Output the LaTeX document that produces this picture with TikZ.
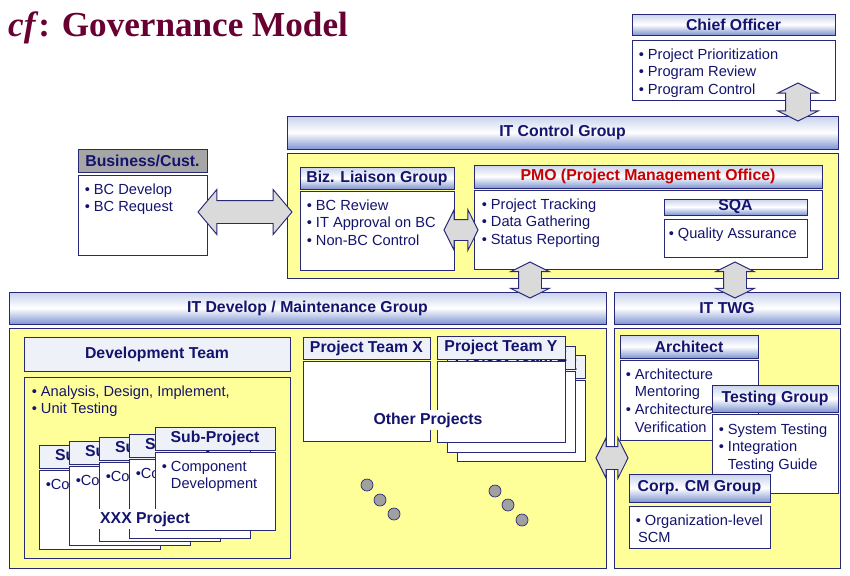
\documentclass[tikz,border=0pt]{standalone}
\usepackage{fontspec}
\setmainfont{Liberation Sans}
\newfontfamily\titlefont{Liberation Serif}
\usetikzlibrary{shapes.arrows,fit,positioning}

\definecolor{navytext}{RGB}{20,20,110}
\definecolor{edgeblue}{RGB}{40,40,120}
\definecolor{areayellow}{RGB}{255,255,153}
\definecolor{hdrtop}{RGB}{200,210,236}
\definecolor{hdrbot}{RGB}{128,150,210}
\definecolor{paleblue}{RGB}{238,242,248}
\definecolor{bizgray}{RGB}{166,166,166}
\definecolor{arrowgray}{RGB}{218,218,218}
\definecolor{dotgray}{RGB}{160,160,160}
\definecolor{titlered}{RGB}{105,0,50}
\definecolor{pmored}{RGB}{200,0,0}

\newcommand{\itm}{\textbullet\ }
\newcommand{\ind}{\hphantom{\textbullet\ }}
\def\px{0.03cm}

\tikzset{
  box/.style={draw=edgeblue, line width=0.8pt, inner sep=0pt},
  hdrtext/.style={inner sep=0pt, text=navytext, font=\fontsize{13.5}{16}\selectfont\bfseries},
  hdr/.style={box, top color=hdrtop, bottom color=hdrbot, middle color=white},
  palehdr/.style={box, fill=paleblue},
  grayhdr/.style={box, fill=bizgray},
  body/.style={box, fill=white},
  area/.style={box, fill=areayellow},
  txt/.style={anchor=north west, align=left, inner sep=0pt, text=navytext,
    font=\fontsize{12.5}{15}\selectfont},
  bigtag/.style={fill=white, inner sep=2pt, text=navytext, font=\fontsize{13.5}{16}\selectfont\bfseries},
  dbl/.style={double arrow, draw=edgeblue, fill=arrowgray, line width=0.8pt, inner xsep=0pt},
  dot/.style={circle, draw=edgeblue, fill=dotgray, line width=0.6pt, minimum size=12*\px, inner sep=0pt}
}

\begin{document}
\begin{tikzpicture}[x=0.03cm, y=-0.03cm]
\useasboundingbox (0,0) rectangle (850,575);

% title
\node[anchor=base west, inner sep=0pt, text=titlered, font=\titlefont\fontsize{30}{36}\selectfont\bfseries] (title) at (8,36) {\textit{cf}: Governance Model};

% chief officer
\node[hdr, fit={(632,14) (835,35)}, label={[hdrtext]center:Chief Officer}] (chief) {};
\node[body, fit={(632,40) (835,100)}] (chiefb) {};
\node[txt] (chieft) at ([shift={(7,9)}]chiefb.north west) {\itm Project Prioritization\\ \itm Program Review\\ \itm Program Control};

% IT control group
\node[hdr, fit={(287,116) (838,149)}, label={[hdrtext]center:IT Control Group}] (itc) {};
\node[area, fit={(287,153) (838,278)}] (itca) {};

% business / customer
\node[grayhdr, fit={(78,149) (207,172)}, label={[hdrtext]center:Business/Cust.}] (biz) {};
\node[body, fit={(78,175) (207,255)}] (bizb) {};
\node[txt] (bizt) at ([shift={(7,9)}]bizb.north west) {\itm BC Develop\\ \itm BC Request};

% liaison group
\node[hdr, fit={(300,167) (454,189)}, label={[hdrtext]center:Biz. Liaison Group}] (liaison) {};
\node[body, fit={(300,191) (454,270)}] (liaisonb) {};
\node[txt] (liaisont) at ([shift={(7,9)}]liaisonb.north west) {\itm BC Review\\ \itm IT Approval on BC\\ \itm Non-BC Control};

% PMO
\node[hdr, fit={(474,165) (822,188)}, label={[hdrtext, text=pmored]center:PMO (Project Management Office)}] (pmo) {};
\node[body, fit={(474,190) (822,269)}] (pmob) {};
\node[txt] (pmot) at ([shift={(8,9)}]pmob.north west) {\itm Project Tracking\\ \itm Data Gathering\\ \itm Status Reporting};
\node[hdr, fit={(664,199) (807,215)}, label={[hdrtext]center:SQA}] (sqa) {};
\node[body, fit={(664,219) (807,257)}] (sqab) {};
\node[txt] (sqat) at ([shift={(5,9)}]sqab.north west) {\itm Quality Assurance};

% lower groups
\node[hdr, fit={(9,292) (606,324)}, label={[hdrtext]center:IT Develop / Maintenance Group}] (itd) {};
\node[area, fit={(9,328) (606,568)}] (itda) {};
\node[hdr, fit={(614,292) (840,324)}, label={[hdrtext]center:IT TWG}] (twg) {};
\node[area, fit={(614,328) (840,568)}] (twga) {};

% development team
\node[palehdr, fit={(24,337) (290,371)}, label={[hdrtext]center:Development Team}] (dev) {};
\node[area, fit={(24,377) (290,558)}] (devb) {};
\node[txt] (devt) at ([shift={(8,9)}]devb.north west) {\itm Analysis, Design, Implement,\\ \itm Unit Testing};

% sub-project cards
\foreach \cx/\cy [count=\i] in {39/445, 69/441, 99/437, 129/434} {
  \node[palehdr, fit={(\cx,\cy) (\cx+121,\cy+23)}, label={[hdrtext]center:Sub-Project}] (sub\i) {};
  \node[body, fit={(\cx,\cy+25) (\cx+121,\cy+104)}] (subb\i) {};
  \node[txt] (subt\i) at ([shift={(7,9)}]subb\i.north west) {\textbullet Co};
}
\node[palehdr, fit={(155,427) (275,450)}, label={[hdrtext]center:Sub-Project}] (sub5) {};
\node[body, fit={(155,452) (275,530)}] (subb5) {};
\node[txt] (subt5) at ([shift={(7,9)}]subb5.north west) {\itm Component\\ \ind Development};
\node[bigtag] (xxx) at (145,519) {XXX Project};

% project teams
\node[palehdr, fit={(303,337) (430,359)}, label={[hdrtext]center:Project Team X}] (ptx) {};
\node[body, fit={(303,361) (430,441)}] (ptxb) {};
\foreach \cx/\cy [count=\i] in {20/19, 10/10} {
  \node[palehdr, fit={(437+\cx,336+\cy) (565+\cx,359+\cy)}, label={[hdrtext]center:Project Team Z}] (ptz\i) {};
  \node[body, fit={(437+\cx,361+\cy) (565+\cx,442+\cy)}] (ptzb\i) {};
}
\node[palehdr, fit={(437,336) (565,359)}, label={[hdrtext]center:Project Team Y}] (pty) {};
\node[body, fit={(437,361) (565,442)}] (ptyb) {};
\node[bigtag] (other) at (428,420) {Other Projects};

% more projects
\foreach \dx/\dy [count=\i] in {367/485, 380/500, 394/514, 495/491, 508/505, 522/520}
  \node[dot] (dot\i) at (\dx,\dy) {};

% TWG members
\node[hdr, fit={(620,335) (758,358)}, label={[hdrtext]center:Architect}] (arch) {};
\node[body, fit={(620,360) (758,440)}] (archb) {};
\node[txt] (archt) at ([shift={(6,9)}]archb.north west) {\itm Architecture\\ \ind Mentoring\\ \itm Architecture\\ \ind Verification};
\node[hdr, fit={(712,385) (838,412)}, label={[hdrtext]center:Testing Group}] (test) {};
\node[body, fit={(712,414) (838,493)}] (testb) {};
\node[txt] (testt) at ([shift={(7,10)}]testb.north west) {\itm System Testing\\ \itm Integration\\ \ind Testing Guide};
\node[hdr, fit={(629,474) (770,502)}, label={[hdrtext]center:Corp. CM Group}] (corp) {};
\node[body, fit={(629,506) (770,548)}] (corpb) {};
\node[txt] (corpt) at ([shift={(7,9)}]corpb.north west) {\itm Organization-level\\ \hspace{2pt}SCM};

% double arrows
\node[dbl, rotate=90, minimum height=38*\px, inner ysep=12*\px, double arrow head extend=8*\px, double arrow tip angle=127] (upchief) at (798,102) {};
\node[dbl, minimum height=94*\px, inner ysep=11*\px, double arrow head extend=11*\px, double arrow tip angle=100] (tobiz) at (245,212) {};
\node[dbl, minimum height=34*\px, inner ysep=10*\px, double arrow head extend=10*\px, double arrow tip angle=127] (topmo) at (461,230) {};
\node[dbl, rotate=90, minimum height=36*\px, inner ysep=11*\px, double arrow head extend=8*\px, double arrow tip angle=127] (uppmo) at (530,280) {};
\node[dbl, rotate=90, minimum height=36*\px, inner ysep=11*\px, double arrow head extend=8*\px, double arrow tip angle=127] (upsqa) at (735,280) {};
\node[dbl, minimum height=32*\px, inner ysep=11*\px, double arrow head extend=9*\px, double arrow tip angle=127] (totwg) at (612,458) {};
\end{tikzpicture}
\end{document}
